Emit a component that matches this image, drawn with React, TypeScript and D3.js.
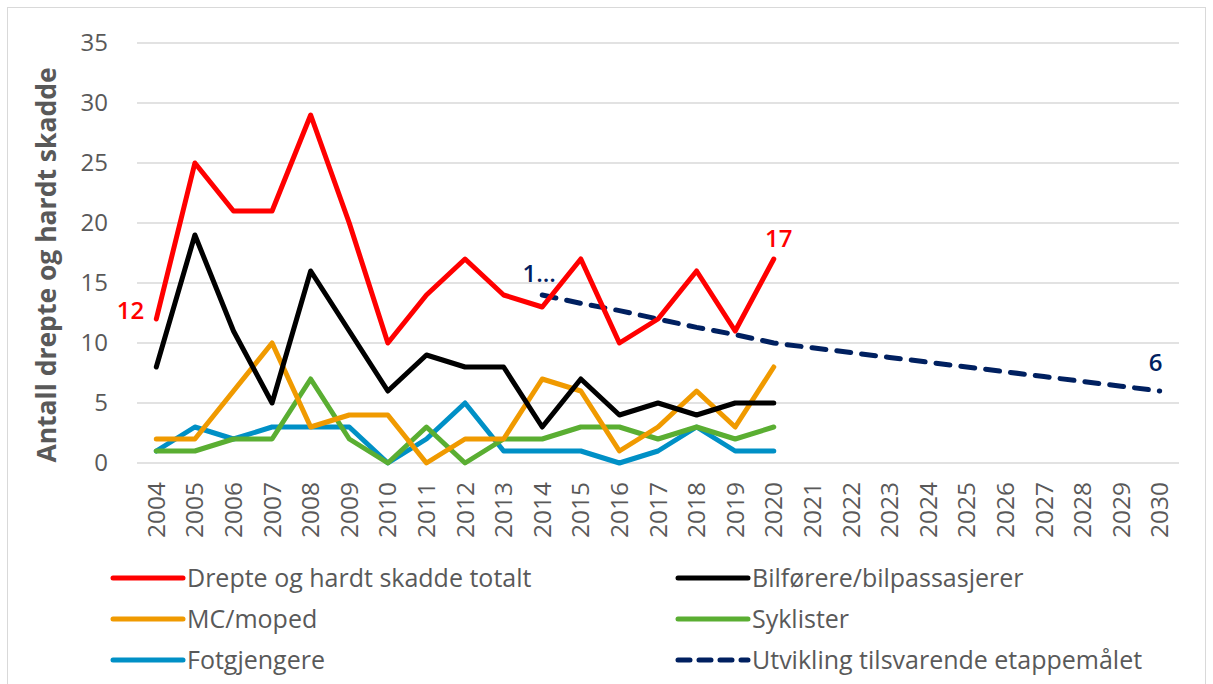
import React from 'react';
import * as d3 from 'd3';

// years on the x axis (line data stops at 2020, target line runs to 2030)
const years = ['2004', '2005', '2006', '2007', '2008', '2009', '2010', '2011', '2012', '2013', '2014', '2015', '2016', '2017', '2018', '2019', '2020', '2021', '2022', '2023', '2024', '2025', '2026', '2027', '2028', '2029', '2030'];
const dataYears = years.slice(0, 17);
const yTicks = [0, 5, 10, 15, 20, 25, 30, 35];

const totalt = [12, 25, 21, 21, 29, 20, 10, 14, 17, 14, 13, 17, 10, 12, 16, 11, 17];
const bil = [8, 19, 11, 5, 16, 11, 6, 9, 8, 8, 3, 7, 4, 5, 4, 5, 5];
const mc = [2, 2, 6, 10, 3, 4, 4, 0, 2, 2, 7, 6, 1, 3, 6, 3, 8];
const sykl = [1, 1, 2, 2, 7, 2, 0, 3, 0, 2, 2, 3, 3, 2, 3, 2, 3];
const fotg = [1, 3, 2, 3, 3, 3, 0, 2, 5, 1, 1, 1, 0, 1, 3, 1, 1];
const maalYears = years.slice(10);
const maal = [14, 13.3, 12.7, 12, 11.3, 10.7, 10, 9.6, 9.2, 8.8, 8.4, 8, 7.6, 7.2, 6.8, 6.4, 6];

const series = [
  { name: 'Drepte og hardt skadde totalt', color: '#ff0000', values: totalt },
  { name: 'Bilførere/bilpassasjerer', color: '#000000', values: bil },
  { name: 'MC/moped', color: '#f09a00', values: mc },
  { name: 'Syklister', color: '#5aae32', values: sykl },
  { name: 'Fotgjengere', color: '#0090c6', values: fotg },
];
const navy = '#002060';
const grey = '#595959';
const font = "'Open Sans', 'Noto Sans', sans-serif";

const App = () => {
  const W = 1213, H = 684;
  const left = 137, right = 1179, top = 43, bottom = 463;

  const x = d3.scaleBand().domain(years).range([left, right]);
  const cx = (yr: string) => (x(yr) as number) + x.bandwidth() / 2;
  const y = d3.scaleLinear().domain([0, 35]).range([bottom, top]);

  const line = d3.line<[string, number]>().x(d => cx(d[0])).y(d => y(d[1]));

  const legend = [
    { name: series[0].name, color: series[0].color, dash: false, col: 0, row: 0 },
    { name: series[1].name, color: series[1].color, dash: false, col: 1, row: 0 },
    { name: series[2].name, color: series[2].color, dash: false, col: 0, row: 1 },
    { name: series[3].name, color: series[3].color, dash: false, col: 1, row: 1 },
    { name: series[4].name, color: series[4].color, dash: false, col: 0, row: 2 },
    { name: 'Utvikling tilsvarende etappemålet', color: navy, dash: true, col: 1, row: 2 },
  ];

  return (
    <svg width={W} height={H} style={{ position: 'absolute', left: 0, top: 0, background: '#fff' }} fontFamily={font}>
      <rect x={7.5} y={7.5} width={1198} height={690} fill="none" stroke="#d9d9d9" />

      {/* grid + y ticks */}
      {yTicks.map(t => (
        <g key={t}>
          <line x1={left} x2={right} y1={y(t)} y2={y(t)} stroke="#d9d9d9" strokeWidth={1.5} />
          <text x={108} y={y(t)} dy="0.35em" textAnchor="end" fontSize={24} fill={grey}>{t}</text>
        </g>
      ))}

      {/* x tick labels */}
      {years.map(yr => (
        <text key={yr} transform={`translate(${cx(yr)},482) rotate(-90)`} dy="0.35em" textAnchor="end" fontSize={24.5} fill={grey}>{yr}</text>
      ))}

      <text transform="translate(47,265) rotate(-90)" dy="0.35em" textAnchor="middle" fontSize={26.5} fontWeight="bold" fill={grey}>Antall drepte og hardt skadde</text>

      {/* target line */}
      <path d={line(maalYears.map((yr, i) => [yr, maal[i]] as [string, number])) || ''} fill="none" stroke={navy} strokeWidth={5} strokeDasharray="14 11" strokeLinecap="round" />

      {/* series, drawn back to front */}
      {[...series].reverse().map(s => (
        <path key={s.name} d={line(dataYears.map((yr, i) => [yr, s.values[i]] as [string, number])) || ''} fill="none" stroke={s.color} strokeWidth={5} strokeLinejoin="round" strokeLinecap="round" />
      ))}

      {/* data labels */}
      <text x={cx('2004') - 12} y={y(totalt[0]) - 8} dy="0.35em" textAnchor="end" fontSize={24} fontWeight={600} fill="#ff0000">{totalt[0]}</text>
      <text x={cx('2020') + 5} y={y(totalt[16]) - 12} textAnchor="middle" fontSize={24} fontWeight={600} fill="#ff0000">{totalt[16]}</text>
      <text x={cx('2014') - 3} y={y(maal[0]) - 13} textAnchor="middle" fontSize={24} fontWeight={600} fill={navy}>1...</text>
      <text x={cx('2030') - 4} y={y(maal[16]) - 20} textAnchor="middle" fontSize={24} fontWeight={600} fill={navy}>{maal[16]}</text>

      {/* legend */}
      {legend.map(l => {
        const lx = l.col === 0 ? 113 : 678;
        const ly = 578 + l.row * 41;
        return (
          <g key={l.name}>
            <line x1={lx} x2={lx + 70} y1={ly} y2={ly} stroke={l.color} strokeWidth={5} strokeLinecap="round" strokeDasharray={l.dash ? '12 9' : undefined} />
            <text x={lx + 74} y={ly} dy="0.35em" fontSize={25} fill={grey}>{l.name}</text>
          </g>
        );
      })}
    </svg>
  );
};

export default App;
